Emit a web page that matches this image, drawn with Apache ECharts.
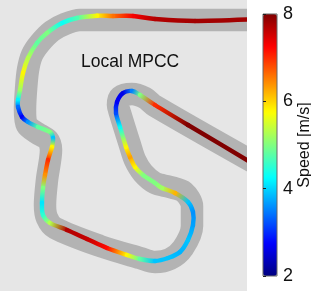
<!DOCTYPE html>
<html><head><meta charset="utf-8">
<style>html,body{margin:0;padding:0;background:#fff}#c{width:311px;height:291px}</style>
<script src="https://cdn.jsdelivr.net/npm/echarts@6/dist/echarts.min.js"></script>
</head><body><div id="c"></div>
<script>
const trackX=[262,80,65,52,40,32,28,26,25,27,37,48,51,47,45,47,55,100,140,155,170,183,192,192,184,170,155,143,135,130,120,118,120,132,145,155,262];
const trackY=[20,20,24,31,43,55,70,90,110,125,133,140,150,180,205,218,228,246,258,262,259,248,226,206,192,187,183,173,160,145,113,105,97,94,98,106,167];
const lineX=[262,195,155,133,113,97,77,62,47,37,28,23,20,18,18,22,28,38,50,53,52,48,45,43,42,43,50,67,87,107,127,140,155,168,180,188,193,193,188,175,162,155,143,135,130,126,120,116,117,123,132,140,155,188,262];
const lineY=[19,21,19,16,16,15.7,18,23,33,43,58,73,90,100,107,117,122,127,132,138,147,160,175,188,203,215,223,230,239,248,255,259,261,258,252,240,225,212,202,193,188,183,175,167,157,147,127,113,102,93,91,95,105,125,169];
const speed=[7.8,7.8,7.7,7.3,6.6,5.8,4.7,4.3,5,4.8,5.3,5.8,5.2,4.2,3.4,2.7,3.6,4.8,5,3.9,5.8,7,6.4,5,4.1,4.5,5.3,7.7,7.6,7.2,5.8,4.8,3.9,3.9,3.8,3.9,3.7,3.6,3.9,6.2,5.2,5,5,5.8,6.3,5.8,4.3,3.2,2.7,2.6,3.5,5,7,8,8];
const ticks=[2,4,6,8];
const jet=['#000080','#0000ff','#0080ff','#00ffff','#80ff80','#ffff00','#ff8000','#ff0000','#800000'];
const chart=echarts.init(document.getElementById('c'),null,{renderer:'canvas'});
chart.setOption({
 animation:false,
 grid:[
  {left:0,top:0,width:247,height:291,show:true,backgroundColor:'#e6e6e6',borderWidth:0,outerBoundsMode:'none'},
  {left:263,top:14,width:14,height:262,show:true,backgroundColor:'transparent',borderColor:'#666',borderWidth:1,z:10,outerBoundsMode:'none'}
 ],
 xAxis:[
  {gridIndex:0,type:'value',min:0,max:247,show:false},
  {gridIndex:1,type:'value',min:0,max:1,show:false}
 ],
 yAxis:[
  {gridIndex:0,type:'value',min:0,max:291,inverse:true,show:false},
  {gridIndex:1,type:'value',min:ticks[0],max:ticks[3],interval:2,position:'right',z:10,
   axisLine:{show:false},
   axisTick:{show:true,inside:false,length:3,lineStyle:{color:'#222',width:1}},
   splitLine:{show:false},
   axisLabel:{show:true,margin:6,color:'#111',fontSize:18,fontFamily:'Liberation Sans'},
   name:'Speed [m/s]',nameLocation:'middle',nameRotate:90,nameGap:14,
   nameTextStyle:{color:'#111',fontSize:16,fontFamily:'Liberation Sans'}}
 ],
 visualMap:{type:'continuous',seriesIndex:1,dimension:2,min:2,max:8,left:263,top:14,itemWidth:14,itemHeight:262,
   padding:0,calculable:false,realtime:false,showLabel:false,text:null,
   inRange:{color:jet},hoverLink:false},
 series:[
  {type:'line',xAxisIndex:0,yAxisIndex:0,showSymbol:false,smooth:0.3,clip:true,silent:true,z:2,
   lineStyle:{color:'#b3b3b3',width:22.5,cap:'round',join:'round'},
   data:trackX.map((x,i)=>[x,trackY[i]])},
  {type:'custom',xAxisIndex:0,yAxisIndex:0,clip:true,silent:true,z:3,
   encode:{x:0,y:1},
   data:lineX.map((x,i)=>[x,lineY[i],speed[i]]),
   renderItem(params,api){
    const n=lineX.length,i=params.dataIndexInside;
    if(i>=n-1) return null;
    const p=k=>api.coord([api.value(0,k),api.value(1,k)]);
    const a=p(i),b=p(i+1),pr=p(Math.max(i-1,0)),nx=p(Math.min(i+2,n-1));
    const ca=api.visual('color',i),cb=api.visual('color',i+1);
    return {type:'bezierCurve',shape:{x1:a[0],y1:a[1],x2:b[0],y2:b[1],
      cpx1:a[0]+(b[0]-pr[0])/6,cpy1:a[1]+(b[1]-pr[1])/6,
      cpx2:b[0]-(nx[0]-a[0])/6,cpy2:b[1]-(nx[1]-a[1])/6},
     style:{lineWidth:4.4,lineCap:'round',fill:null,
      stroke:new echarts.graphic.LinearGradient(a[0],a[1],b[0],b[1],[{offset:0,color:ca},{offset:1,color:cb}],true)}};
   }}
 ],
 graphic:[
  {type:'rect',z:3,shape:{x:247,y:0,width:15,height:291},style:{fill:'#fff'}},
  {type:'text',left:81,top:53,style:{text:'Local MPCC',fill:'#111',font:'17.5px "Liberation Sans"'}}]
});
</script></body></html>
